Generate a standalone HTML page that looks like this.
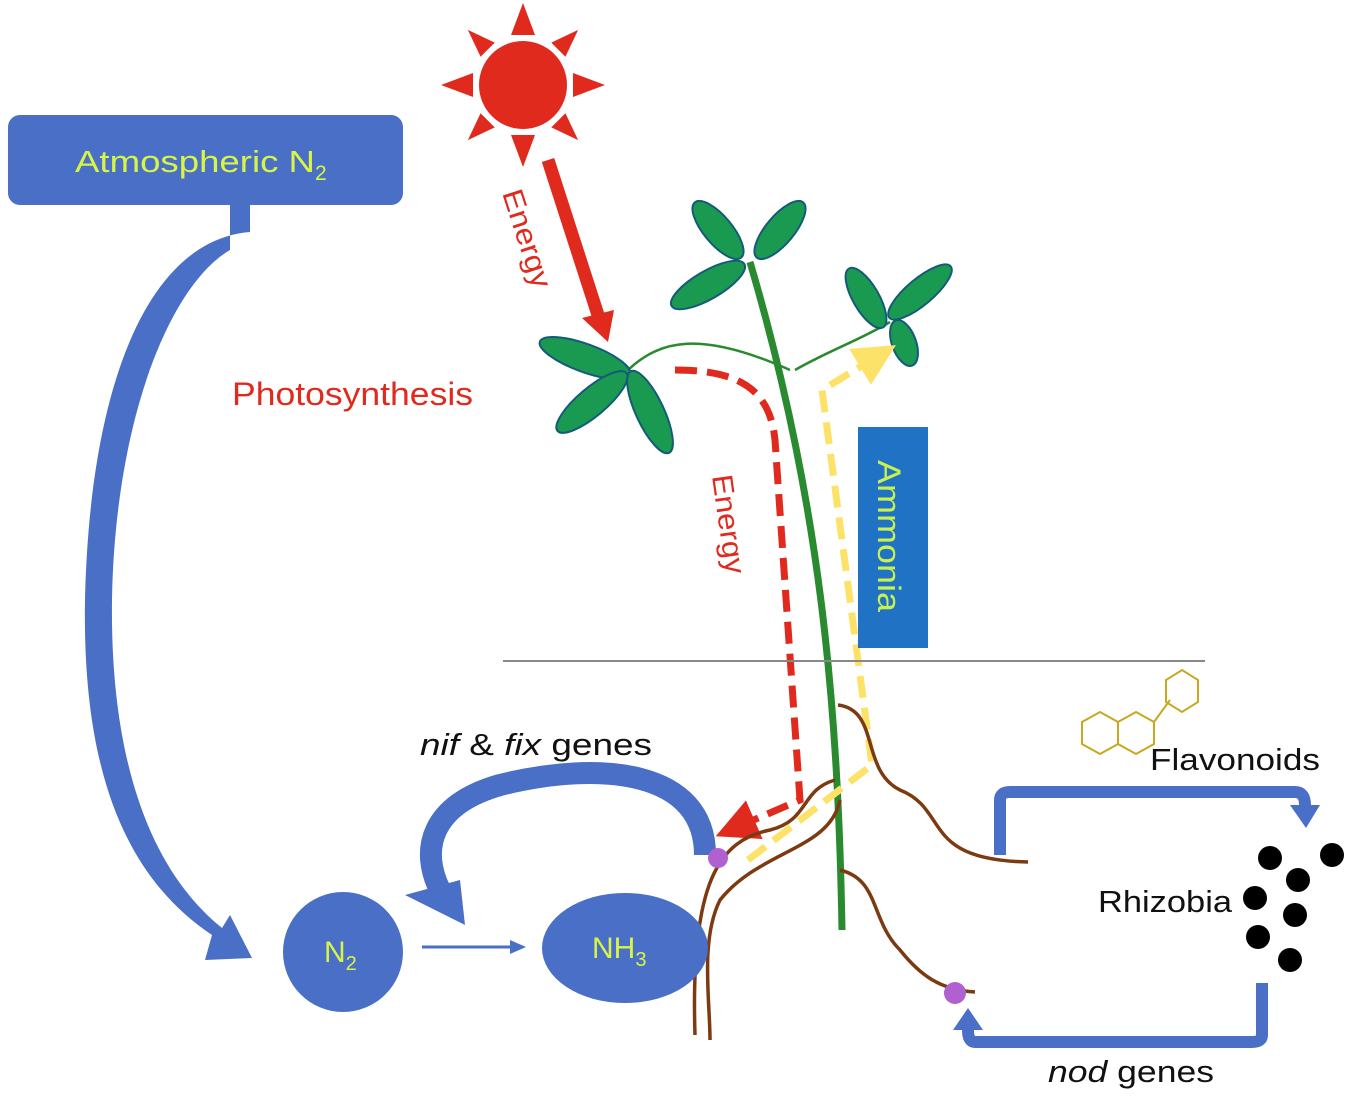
<!DOCTYPE html>
<html><head><meta charset="utf-8"><style>html,body{margin:0;padding:0;background:#fff}svg{display:block}text{font-family:"Liberation Sans",sans-serif}</style></head><body>
<svg width="1350" height="1096" viewBox="0 0 1350 1096" xmlns="http://www.w3.org/2000/svg">
<defs>
<marker id="ar" markerWidth="6" markerHeight="6" refX="3" refY="3" orient="auto"><path d="M0,0 L6,3 L0,6 Z" fill="#e02a1e"/></marker>
<marker id="ay" markerWidth="6" markerHeight="6" refX="3" refY="3" orient="auto"><path d="M0,0 L6,3 L0,6 Z" fill="#fde26a"/></marker>
</defs>
<rect x="8" y="115" width="395" height="90" rx="12" fill="#4a6fc7"/>
<text x="75" y="172" font-size="31" fill="#d8f545"><tspan textLength="240" lengthAdjust="spacingAndGlyphs">Atmospheric N</tspan><tspan font-size="21" dy="8">2</tspan></text>
<path d="M250,205 L250,232 C150,240 90,380 85,600 C82,780 130,880 212,935 L205,960 L252,958 L230,915 L222,928 C150,870 110,760 112,600 C115,420 170,285 230,250 L230,205 Z" fill="#4a6fc7"/>
<g fill="#e02a1e">
<circle cx="523" cy="85" r="44"/>
<g transform="translate(523,85)">
<polygon points="-12,-50 0,-82 12,-50"/><polygon points="-12,50 0,82 12,50"/>
<polygon points="-50,-12 -82,0 -50,12"/><polygon points="50,-12 82,0 50,12"/>
<g transform="rotate(45)"><polygon points="-10,-50 0,-78 10,-50"/><polygon points="-10,50 0,78 10,50"/><polygon points="-50,-10 -78,0 -50,10"/><polygon points="50,-10 78,0 50,10"/></g>
</g></g>
<line x1="548" y1="160" x2="598" y2="315" stroke="#e02a1e" stroke-width="13"/>
<polygon points="582,318 614,310 608,342" fill="#e02a1e"/>
<text transform="translate(502,193) rotate(72)" font-size="29" fill="#e02a1e" textLength="102" lengthAdjust="spacingAndGlyphs">Energy</text>
<text x="232" y="405" font-size="32" fill="#e02a1e" textLength="241" lengthAdjust="spacingAndGlyphs">Photosynthesis</text>
<path d="M628,370 C660,340 700,330 790,370" stroke="#2a8a30" stroke-width="2.5" fill="none"/>
<path d="M795,370 C830,350 860,340 890,322" stroke="#2a8a30" stroke-width="2.5" fill="none"/>
<path d="M842,930 C838,700 820,500 750,262" stroke="#2a8a30" stroke-width="7" fill="none"/>
<g fill="#1a9a50" stroke="#145a7a" stroke-width="2">
<ellipse cx="718" cy="230" rx="36" ry="14" transform="rotate(50 718 230)"/>
<ellipse cx="780" cy="230" rx="36" ry="14" transform="rotate(-50 780 230)"/>
<ellipse cx="708" cy="285" rx="42" ry="14" transform="rotate(-30 708 285)"/>
<ellipse cx="585" cy="358" rx="48" ry="14" transform="rotate(20 585 358)"/>
<ellipse cx="592" cy="402" rx="45" ry="14" transform="rotate(-40 592 402)"/>
<ellipse cx="650" cy="412" rx="45" ry="14" transform="rotate(65 650 412)"/>
<ellipse cx="866" cy="298" rx="34" ry="13" transform="rotate(60 866 298)"/>
<ellipse cx="920" cy="292" rx="40" ry="13" transform="rotate(-40 920 292)"/>
<ellipse cx="904" cy="343" rx="24" ry="12" transform="rotate(70 904 343)"/>
</g>
<path d="M675,370 C740,370 770,390 775,440 L800,800 L735,828" stroke="#e02a1e" stroke-width="7" fill="none" stroke-dasharray="22,10" marker-end="url(#ar)"/>
<text transform="translate(712,476) rotate(82)" font-size="29" fill="#e02a1e" textLength="100" lengthAdjust="spacingAndGlyphs">Energy</text>
<path d="M748,860 L872,765 L822,390 L878,356" stroke="#fde26a" stroke-width="7" fill="none" stroke-dasharray="22,10" marker-end="url(#ay)"/>
<rect x="858" y="427" width="70" height="221" fill="#1f72c4"/>
<text transform="translate(878,460) rotate(90)" font-size="32" fill="#c8f050" textLength="152" lengthAdjust="spacingAndGlyphs">Ammonia</text>
<line x1="503" y1="661" x2="1205" y2="661" stroke="#888" stroke-width="2"/>
<g stroke="#7b3a10" stroke-width="3.5" fill="none">
<path d="M838,705 C880,710 860,770 900,790 C950,810 920,860 1028,862"/>
<path d="M835,780 C800,790 810,820 770,830 C720,840 690,880 695,1035"/>
<path d="M840,800 C830,850 760,850 720,900 C700,940 710,1000 710,1040"/>
<path d="M840,870 C880,880 870,920 900,950 C920,975 940,990 975,992"/>
</g>
<circle cx="343" cy="952" r="60" fill="#4a6fc7"/>
<text x="324" y="962" font-size="30" fill="#d8f545">N<tspan font-size="20" dy="8">2</tspan></text>
<ellipse cx="625" cy="948" rx="83" ry="55" fill="#4a6fc7"/>
<text x="592" y="958" font-size="30" fill="#d8f545">NH<tspan font-size="20" dy="8">3</tspan></text>
<line x1="422" y1="947" x2="512" y2="947" stroke="#4a6fc7" stroke-width="3"/>
<polygon points="510,940 526,947 510,954" fill="#4a6fc7"/>
<path d="M705,855 C705,770 600,760 500,785 C430,805 420,850 440,890" stroke="#4a6fc7" stroke-width="22" fill="none"/>
<polygon points="405,895 465,925 460,880" fill="#4a6fc7"/>
<text x="420" y="755" font-size="31" fill="#111" textLength="232" lengthAdjust="spacingAndGlyphs"><tspan font-style="italic">nif</tspan> &amp; <tspan font-style="italic">fix</tspan> genes</text>
<circle cx="718" cy="858" r="10" fill="#b060d0"/>
<circle cx="955" cy="993" r="11" fill="#b060d0"/>
<g stroke="#c8a820" stroke-width="2" fill="none">
<polygon points="1100,712 1118,722 1118,744 1100,754 1082,744 1082,722"/>
<polygon points="1136,712 1154,722 1154,744 1136,754 1118,744 1118,722"/>
<line x1="1154" y1="722" x2="1170" y2="700"/>
<polygon points="1182,670 1198,680 1198,702 1182,712 1166,702 1166,680"/>
</g>
<text x="1150" y="770" font-size="31" fill="#111" textLength="170" lengthAdjust="spacingAndGlyphs">Flavonoids</text>
<path d="M1000,855 L1000,800 Q1000,792 1010,792 L1295,792 Q1305,792 1305,805" stroke="#4a6fc7" stroke-width="12" fill="none"/>
<polygon points="1290,805 1320,805 1306,828" fill="#4a6fc7"/>
<text x="1098" y="912" font-size="31" fill="#111" textLength="134" lengthAdjust="spacingAndGlyphs">Rhizobia</text>
<g fill="#000">
<circle cx="1270" cy="858" r="12"/><circle cx="1332" cy="855" r="12"/><circle cx="1298" cy="880" r="12"/>
<circle cx="1255" cy="898" r="12"/><circle cx="1295" cy="915" r="12"/><circle cx="1258" cy="937" r="12"/><circle cx="1290" cy="960" r="12"/>
</g>
<path d="M1262,983 L1262,1035 Q1262,1042 1252,1042 L975,1042 Q968,1042 968,1030" stroke="#4a6fc7" stroke-width="12" fill="none"/>
<polygon points="953,1030 983,1030 968,1008" fill="#4a6fc7"/>
<text x="1048" y="1082" font-size="31" fill="#111" textLength="166" lengthAdjust="spacingAndGlyphs"><tspan font-style="italic">nod</tspan> genes</text>
</svg>
</body></html>
